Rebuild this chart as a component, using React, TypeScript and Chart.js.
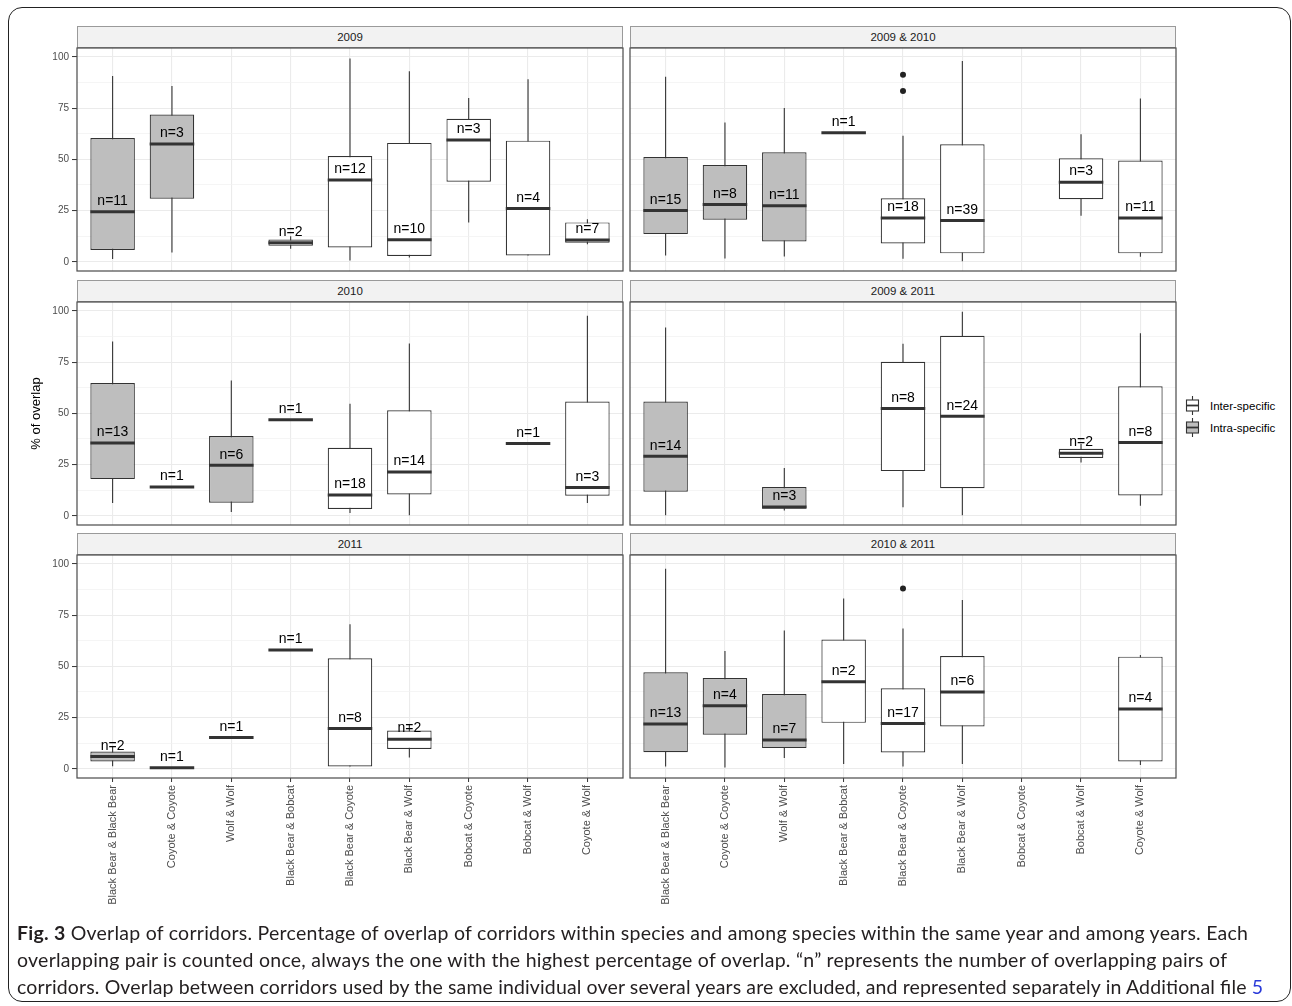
import React, { useEffect, useRef } from 'react';
import { Chart, registerables } from 'chart.js';

Chart.register(...registerables);

const categories = [
  'Black Bear & Black Bear',
  'Coyote & Coyote',
  'Wolf & Wolf',
  'Black Bear & Bobcat',
  'Black Bear & Coyote',
  'Black Bear & Wolf',
  'Bobcat & Coyote',
  'Bobcat & Wolf',
  'Coyote & Wolf',
];
const intraSpecific = [true, true, true, false, false, false, false, false, false];
const yMajorTicks = [0, 25, 50, 75, 100];
const yMinorTicks = [12.5, 37.5, 62.5, 87.5];
const legendLabels = ['Inter-specific', 'Intra-specific'];

// [category index, lower whisker, Q1, median, Q3, upper whisker, n]
const boxes2009 = [
  [0, 1.3, 5.8, 24.4, 60.4, 90.7, 11],
  [1, 4.5, 30.8, 57.5, 71.8, 85.7, 3],
  [3, 6.3, 7.8, 9.3, 10.9, 12.4, 2],
  [4, 0.6, 7.0, 39.9, 51.6, 99.2, 12],
  [5, 2.1, 2.8, 10.7, 58.0, 93.0, 10],
  [6, 19.2, 39.1, 59.4, 69.8, 79.9, 3],
  [7, 3.1, 3.1, 26.0, 59.1, 89.1, 4],
  [8, 8.6, 9.3, 10.6, 19.2, 20.8, 7],
];
const boxes2009and2010 = [
  [0, 3.1, 13.5, 25.0, 51.1, 90.3, 15],
  [1, 1.6, 20.5, 27.9, 47.2, 68.0, 8],
  [2, 2.6, 9.9, 27.3, 53.4, 75.0, 11],
  [3, 63.0, 63.0, 63.0, 63.0, 63.0, 1],
  [4, 1.5, 8.9, 21.3, 31.0, 61.5, 18],
  [5, 0.3, 4.1, 20.1, 57.3, 97.9, 39],
  [7, 22.4, 30.5, 38.8, 50.5, 62.2, 3],
  [8, 2.4, 4.1, 21.3, 49.4, 79.7, 11],
];
const outliers2009and2010 = [
  [4, 91.2],
  [4, 83.3],
];
const boxes2010 = [
  [0, 6.2, 17.9, 35.5, 64.8, 85.0, 13],
  [1, 14.0, 14.0, 14.0, 14.0, 14.0, 1],
  [2, 1.8, 6.4, 24.6, 38.9, 66.0, 6],
  [3, 46.9, 46.9, 46.9, 46.9, 46.9, 1],
  [4, 1.3, 3.3, 10.1, 33.2, 54.7, 18],
  [5, 0.3, 10.4, 21.3, 51.5, 84.0, 14],
  [7, 35.3, 35.3, 35.3, 35.3, 35.3, 1],
  [8, 6.2, 9.8, 13.8, 55.7, 97.6, 3],
];
const boxes2009and2011 = [
  [0, 0.3, 11.7, 29.0, 55.7, 91.9, 14],
  [2, 2.6, 3.4, 4.3, 14.0, 23.3, 3],
  [4, 4.2, 21.8, 52.3, 75.1, 83.9, 8],
  [5, 0.3, 13.4, 48.5, 87.8, 99.5, 24],
  [7, 26.0, 28.2, 30.5, 32.7, 35.0, 2],
  [8, 4.9, 9.9, 35.7, 63.2, 89.1, 8],
];
const boxes2011 = [
  [0, 1.2, 3.6, 6.0, 8.4, 10.8, 2],
  [1, 0.5, 0.5, 0.5, 0.5, 0.5, 1],
  [2, 15.3, 15.3, 15.3, 15.3, 15.3, 1],
  [3, 58.0, 58.0, 58.0, 58.0, 58.0, 1],
  [4, 1.1, 1.1, 19.6, 53.9, 70.5, 8],
  [5, 5.5, 9.7, 14.4, 18.7, 21.5, 2],
];
const boxes2010and2011 = [
  [0, 1.1, 8.1, 21.9, 47.1, 97.6, 13],
  [1, 0.6, 16.6, 30.8, 44.3, 57.5, 4],
  [2, 5.2, 10.1, 14.1, 36.5, 67.5, 7],
  [3, 2.3, 22.4, 42.5, 63.1, 83.1, 2],
  [4, 1.1, 8.0, 22.1, 39.3, 68.5, 17],
  [5, 2.3, 20.6, 37.5, 55.0, 82.3, 6],
  [8, 1.9, 3.6, 29.2, 54.7, 55.5, 4],
];
const outliers2010and2011 = [[4, 88.0]];

const panels = [
  { title: '2009', boxes: boxes2009, outliers: [], row: 0, col: 0 },
  { title: '2009 & 2010', boxes: boxes2009and2010, outliers: outliers2009and2010, row: 0, col: 1 },
  { title: '2010', boxes: boxes2010, outliers: [], row: 1, col: 0 },
  { title: '2009 & 2011', boxes: boxes2009and2011, outliers: [], row: 1, col: 1 },
  { title: '2011', boxes: boxes2011, outliers: [], row: 2, col: 0 },
  { title: '2010 & 2011', boxes: boxes2010and2011, outliers: outliers2010and2011, row: 2, col: 1 },
];

// ---- layout / style constants ----
const FONT = '"Liberation Sans", Arial, Helvetica, sans-serif';
const PANEL_W = 546;
const PANEL_H = 223;
const COL_LEFT = [77, 630];
const ROW_TOP = [48, 302, 555];
const Y_AXIS_W = 61;
const X_AXIS_H = 140;
const PAD = 2;
const STRIP_H = 22;
const LINE = '#333333';
const GRAY_FILL = '#BEBEBE';

function makeBoxPlugin(boxes: number[][]) {
  return {
    id: 'boxplotMarks',
    beforeDatasetsDraw(chart: any) {
      const { ctx, scales } = chart;
      const x = scales.x;
      const y = scales.y;
      ctx.save();
      ctx.strokeStyle = LINE;
      ctx.lineWidth = 1.1;
      boxes.forEach((b) => {
        const px = x.getPixelForValue(b[0]);
        ctx.beginPath();
        ctx.moveTo(px, y.getPixelForValue(b[1]));
        ctx.lineTo(px, y.getPixelForValue(b[5]));
        ctx.stroke();
      });
      ctx.restore();
    },
    afterDatasetsDraw(chart: any) {
      const { ctx, scales, chartArea } = chart;
      const x = scales.x;
      const y = scales.y;
      const half = ((x.getPixelForValue(1) - x.getPixelForValue(0)) * 0.75) / 2;
      ctx.save();
      ctx.strokeStyle = LINE;
      ctx.lineWidth = 3;
      boxes.forEach((b) => {
        const px = x.getPixelForValue(b[0]);
        const py = y.getPixelForValue(b[3]);
        ctx.beginPath();
        ctx.moveTo(px - half, py);
        ctx.lineTo(px + half, py);
        ctx.stroke();
      });
      ctx.fillStyle = '#000';
      ctx.font = `14px ${FONT}`;
      ctx.textAlign = 'center';
      ctx.textBaseline = 'middle';
      boxes.forEach((b) => {
        const px = x.getPixelForValue(b[0]);
        ctx.fillText('n=' + b[6], px, y.getPixelForValue(b[3] + 5.2));
      });
      ctx.strokeStyle = '#4a4a4a';
      ctx.lineWidth = 1.2;
      ctx.strokeRect(chartArea.left, chartArea.top, chartArea.right - chartArea.left, chartArea.bottom - chartArea.top);
      ctx.restore();
    },
  };
}

function Panel({ p }: { p: any }) {
  const ref = useRef<HTMLCanvasElement | null>(null);
  const isLeft = p.col === 0;
  const isBottom = p.row === 2;
  const showTitle = p.col === 0 && p.row === 1;
  const yw = isLeft ? Y_AXIS_W : 0;
  const xh = isBottom ? X_AXIS_H : 0;
  const w = PAD + yw + PANEL_W + PAD;
  const h = PAD + PANEL_H + xh + PAD;
  const left = COL_LEFT[p.col] - yw - PAD;
  const top = ROW_TOP[p.row] - PAD;

  useEffect(() => {
    if (!ref.current) return;
    const isMajor = (v: number) => yMajorTicks.includes(v);
    const chart = new Chart(ref.current, {
      type: 'bar',
      data: {
        datasets: [
          {
            type: 'scatter',
            data: p.outliers.map((o: number[]) => ({ x: o[0], y: o[1] })),
            pointRadius: 3,
            pointBackgroundColor: '#222',
            pointBorderWidth: 0,
          } as any,
          {
            type: 'bar',
            data: p.boxes.map((b: number[]) => ({ x: b[0], y: [b[2], b[4]] })),
            backgroundColor: p.boxes.map((b: number[]) => (intraSpecific[b[0]] ? GRAY_FILL : '#FFFFFF')),
            borderColor: LINE,
            borderWidth: 1.2,
            borderSkipped: false,
            barPercentage: 0.75,
            categoryPercentage: 1,
            grouped: false,
          } as any,
        ],
      },
      options: {
        animation: false,
        responsive: false,
        events: [],
        layout: { autoPadding: false, padding: { left: PAD, right: PAD, top: PAD, bottom: PAD } },
        plugins: { legend: { display: false }, tooltip: { enabled: false } },
        scales: {
          x: {
            type: 'linear',
            min: -0.6,
            max: 8.6,
            offset: false,
            afterBuildTicks: (s: any) => {
              s.ticks = categories.map((_, i) => ({ value: i }));
            },
            afterFit: (s: any) => {
              s.height = xh;
              s.paddingLeft = 0;
              s.paddingRight = 0;
              s.paddingTop = 0;
              s.paddingBottom = 0;
            },
            ticks: {
              display: isBottom,
              autoSkip: false,
              minRotation: 90,
              maxRotation: 90,
              padding: 3,
              color: '#4D4D4D',
              font: { family: FONT, size: 11 },
              callback: (v: any) => categories[Math.round(Number(v))] ?? '',
            },
            grid: {
              offset: false,
              color: '#EBEBEB',
              lineWidth: 1.1,
              drawTicks: isBottom,
              tickLength: 4,
              tickColor: LINE,
              tickWidth: 1,
            },
            border: { display: false },
          },
          y: {
            type: 'linear',
            min: -4.5,
            max: 104.3,
            beginAtZero: false,
            afterBuildTicks: (s: any) => {
              s.ticks = [...yMajorTicks, ...yMinorTicks].sort((a, b) => a - b).map((v) => ({ value: v }));
            },
            afterFit: (s: any) => {
              s.width = yw;
              s.paddingLeft = 0;
              s.paddingRight = 0;
              s.paddingTop = 0;
              s.paddingBottom = 0;
            },
            ticks: {
              display: isLeft,
              padding: 3,
              color: '#4D4D4D',
              font: { family: FONT, size: 10 },
              callback: (v: any) => (isMajor(Number(v)) ? String(v) : ''),
            },
            grid: {
              color: (c: any) => (isMajor(c.tick?.value) ? '#EBEBEB' : '#F1F1F1'),
              lineWidth: (c: any) => (isMajor(c.tick?.value) ? 1.1 : 0.7),
              drawTicks: isLeft,
              tickLength: 5,
              tickColor: (c: any) => (isMajor(c.tick?.value) ? LINE : 'rgba(0,0,0,0)'),
              tickWidth: 1,
            },
            border: { display: false },
            title: {
              display: showTitle,
              text: '% of overlap',
              color: '#000',
              font: { family: FONT, size: 13 },
              padding: { top: 13, bottom: 0 },
            },
          },
        },
      } as any,
      plugins: [makeBoxPlugin(p.boxes)],
    });
    return () => chart.destroy();
  }, []);

  return (
    <>
      <div
        style={{
          position: 'absolute',
          left: COL_LEFT[p.col],
          top: ROW_TOP[p.row] - STRIP_H,
          width: PANEL_W,
          height: STRIP_H,
          boxSizing: 'border-box',
          background: '#F2F2F2',
          border: '1px solid #9a9a9a',
          fontFamily: FONT,
          fontSize: 11.5,
          color: '#1A1A1A',
          textAlign: 'center',
          lineHeight: STRIP_H - 2 + 'px',
        }}
      >
        {p.title}
      </div>
      <canvas
        ref={ref}
        width={w}
        height={h}
        style={{ position: 'absolute', left, top, width: w, height: h }}
      />
    </>
  );
}

function Legend() {
  const glyph = (cy: number, fill: string) => (
    <g>
      <line x1={12.5} x2={12.5} y1={cy - 9.5} y2={cy + 9.5} stroke={LINE} strokeWidth={1.1} />
      <rect x={6.5} y={cy - 5.5} width={12} height={11} fill={fill} stroke={LINE} strokeWidth={1.1} />
      <line x1={6.5} x2={18.5} y1={cy} y2={cy} stroke={LINE} strokeWidth={1.8} />
    </g>
  );
  return (
    <svg width={112} height={56} style={{ position: 'absolute', left: 1180, top: 390 }}>
      {glyph(15.5, '#FFFFFF')}
      {glyph(37.5, GRAY_FILL)}
      <text x={30} y={16} dominantBaseline="central" fontFamily={FONT} fontSize={11.5} fill="#000">
        {legendLabels[0]}
      </text>
      <text x={30} y={38} dominantBaseline="central" fontFamily={FONT} fontSize={11.5} fill="#000">
        {legendLabels[1]}
      </text>
    </svg>
  );
}

function Caption() {
  const common = {
    fontFamily: 'Lato, "Open Sans", sans-serif',
    fontSize: 19.5,
    fill: '#231F20',
    lengthAdjust: 'spacing' as any,
  };
  return (
    <svg width={1292} height={110} style={{ position: 'absolute', left: 0, top: 896 }}>
      <text x={17} y={44} textLength={1231} {...common}>
        <tspan fontWeight="bold">Fig. 3</tspan> Overlap of corridors. Percentage of overlap of corridors within species and
        among species within the same year and among years. Each
      </text>
      <text x={17} y={71} textLength={1210} {...common}>
        overlapping pair is counted once, always the one with the highest percentage of overlap. “n” represents the
        number of overlapping pairs of
      </text>
      <text x={17} y={98} textLength={1246} {...common}>
        corridors. Overlap between corridors used by the same individual over several years are excluded, and
        represented separately in Additional file <tspan fill="#2B3BD9">5</tspan>
      </text>
    </svg>
  );
}

export default function App() {
  return (
    <div style={{ position: 'absolute', left: 0, top: 0, width: 1292, height: 1006, background: '#fff' }}>
      <div
        style={{
          position: 'absolute',
          left: 8,
          top: 7,
          width: 1283,
          height: 995,
          boxSizing: 'border-box',
          border: '1.5px solid #222',
          borderRadius: 14,
        }}
      />
      {panels.map((p) => (
        <Panel key={p.title} p={p} />
      ))}
      <Legend />
      <Caption />
    </div>
  );
}
